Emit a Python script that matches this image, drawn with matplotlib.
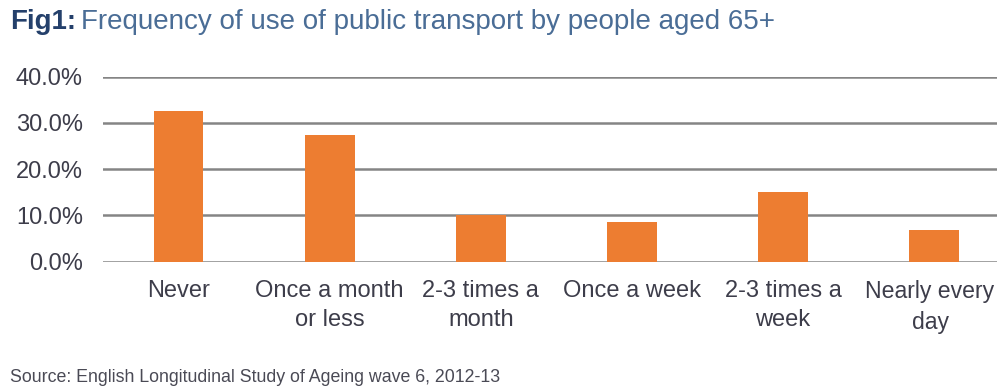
import matplotlib
matplotlib.use("Agg")
import matplotlib.pyplot as plt
import matplotlib.transforms as mtransforms
from matplotlib.ticker import FuncFormatter

categories = ["Never", "Once a month\nor less", "2-3 times a\nmonth", "Once a week",
              "2-3 times a\nweek", "Nearly every\nday"]
values = [32.6, 27.4, 10.1, 8.5, 15.1, 6.9]
yticks = [0, 10, 20, 30, 40]

plt.rcParams['font.family'] = ['Liberation Sans', 'DejaVu Sans']

W, H = 997, 390
fig = plt.figure(figsize=(W / 100, H / 100), dpi=100)
left, right = 103, 1009.6
top, bottom = 76.7, 261.7
ax = fig.add_axes([left / W, 1 - bottom / H, (right - left) / W, (bottom - top) / H])

x = list(range(len(categories)))
ax.bar(x, values, width=0.33, color="#ED7D31", zorder=3)
ax.set_xlim(-0.5, len(categories) - 0.5)
ax.set_ylim(0, 40)
ax.set_yticks(yticks)
ax.yaxis.set_major_formatter(FuncFormatter(lambda v, p: f"{v:.1f}%"))
ax.grid(axis="y", color="#858585", linewidth=1.8, zorder=1)
for s in ax.spines.values():
    s.set_visible(False)
ax.tick_params(axis="both", length=0)
ax.tick_params(axis="y", labelsize=17, labelcolor="#3d3d4a", pad=14.5)
ax.set_xticks(x)
ax.set_xticklabels(categories, fontsize=17, color="#3d3d4a", linespacing=1.45)
ax.tick_params(axis="x", pad=13)
last = ax.get_xticklabels()[-1]
last.set_fontsize(16.6)
last.set_transform(last.get_transform() + mtransforms.ScaledTranslation(-4 / 100, 0, fig.dpi_scale_trans))

fig.text(10 / W, 1 - 22 / H, "Fig1:", fontsize=20, fontweight="bold", color="#24406b",
         va="center", ha="left")
fig.text(81 / W, 1 - 22 / H, "Frequency of use of public transport by people aged 65+",
         fontsize=20, color="#4a6d96", va="center", ha="left")
fig.text(10 / W, 1 - 378 / H, "Source: English Longitudinal Study of Ageing wave 6, 2012-13",
         fontsize=12.8, color="#4a4a55", va="center", ha="left")

fig.savefig("out.png", dpi=100)
